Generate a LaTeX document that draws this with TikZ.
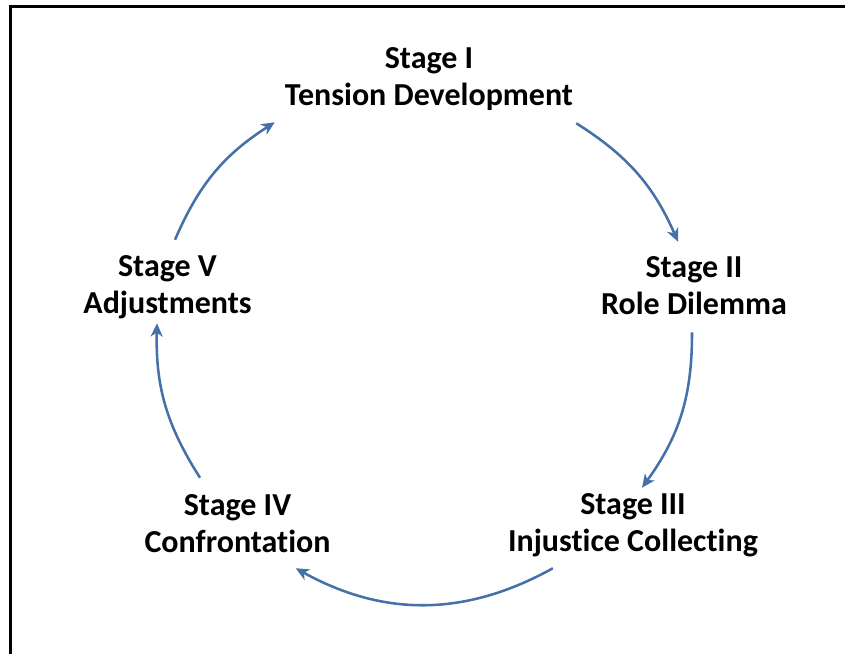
\documentclass[tikz,border=0pt]{standalone}
\usepackage{fontspec}
\setmainfont{Carlito}[Ligatures=NoCommon]
\usetikzlibrary{arrows.meta}
\definecolor{cycleblue}{RGB}{69,112,168}

\begin{document}
\begin{tikzpicture}[x=0.75pt,y=0.75pt,
    stage/.style={font=\fontsize{24}{27.75}\selectfont\bfseries, align=center, inner sep=0pt},
    flow/.style={draw=cycleblue, line width=1.9pt, -{Stealth[length=10pt,width=9pt,inset=3pt]}}]
    \useasboundingbox (0,0) rectangle (845,653);
    \clip (0,0) rectangle (845,653);
    \draw[line width=2.6pt] (10.5,-20) rectangle (880,646.5);

    \node[stage] (s1) at (429,573) {Stage I\strut\\Tension Development\strut};
    \node[stage] (s2) at (694,364) {Stage II\strut\\Role Dilemma\strut};
    \node[stage] (s3) at (633,127) {Stage III\strut\\Injustice Collecting\strut};
    \node[stage] (s4) at (237.5,126.5) {Stage IV\strut\\Confrontation\strut};
    \node[stage] (s5) at (167.5,365) {Stage V\strut\\Adjustments\strut};

    \draw [flow] ([shift={(7.5,11)}]s5.north) to [bend left=17] ([shift={(-10,-5)}]s1.south west);
    \draw [flow] ([shift={(3,-6)}]s1.south east) to [bend left=17] ([shift={(-16,10)}]s2.north);
    \draw [flow] ([shift={(-2,-6)}]s2.south) to [bend left=18] ([shift={(9,1)}]s3.north);
    \draw [flow] ([shift={(45,-5)}]s3.south west) to [bend left=29] ([shift={(-35,-4.5)}]s4.south east);
    \draw [flow] ([shift={(-37.5,11.5)}]s4.north) to [bend left=17] ([shift={(-10.5,2)}]s5.south);
\end{tikzpicture}
\end{document}
